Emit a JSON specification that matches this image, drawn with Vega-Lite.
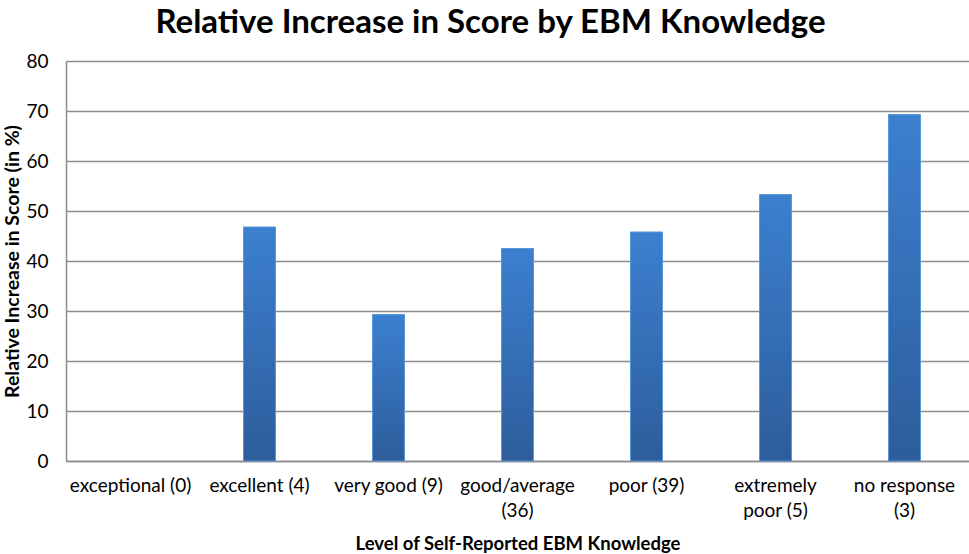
{
  "$schema": "https://vega.github.io/schema/vega-lite/v6.json",
  "description": "Relative increase in score by self-reported EBM knowledge",
  "width": 903,
  "height": 400,
  "autosize": {"type": "none"},
  "padding": {"left": 66, "top": 61, "right": 0, "bottom": 93},
  "background": "white",
  "title": {
    "text": "Relative Increase in Score by EBM Knowledge",
    "font": "Lato",
    "fontSize": 33,
    "fontWeight": "bold",
    "color": "black",
    "anchor": "middle",
    "dx": -27,
    "offset": 12
  },
  "data": {
    "values": [
      {"level": "exceptional (0)", "increase": null},
      {"level": "excellent (4)", "increase": 46.8},
      {"level": "very good (9)", "increase": 29.3},
      {"level": "good/average\n(36)", "increase": 42.5},
      {"level": "poor (39)", "increase": 45.8},
      {"level": "extremely\npoor (5)", "increase": 53.3},
      {"level": "no response\n(3)", "increase": 69.3}
    ]
  },
  "mark": {
    "type": "bar",
    "width": 32,
    "stroke": "#5b96d8",
    "strokeWidth": 1,
    "color": {
      "gradient": "linear",
      "x1": 0, "y1": 0, "x2": 0, "y2": 1,
      "stops": [
        {"offset": 0, "color": "#3c80d0"},
        {"offset": 1, "color": "#2d5d9b"}
      ]
    }
  },
  "encoding": {
    "x": {
      "field": "level",
      "type": "nominal",
      "sort": null,
      "title": "Level of Self-Reported EBM Knowledge",
      "scale": {
        "domain": ["exceptional (0)", "excellent (4)", "very good (9)", "good/average\n(36)", "poor (39)", "extremely\npoor (5)", "no response\n(3)"],
        "paddingInner": 0,
        "paddingOuter": 0
      },
      "axis": {
        "labelAngle": 0,
        "labelExpr": "split(datum.label, '\\n')",
        "labelFont": "Lato",
        "labelFontSize": 19,
        "labelColor": "black",
        "labelLineHeight": 25,
        "labelPadding": 15,
        "ticks": false,
        "domainColor": "#8c8c8c",
        "domainWidth": 1.5,
        "titleFont": "Lato",
        "titleFontSize": 18.5,
        "titleFontWeight": "bold",
        "titleColor": "black",
        "titlePadding": 14
      }
    },
    "y": {
      "field": "increase",
      "type": "quantitative",
      "title": "Relative Increase in Score (in %)",
      "scale": {"domain": [0, 80]},
      "axis": {
        "values": [0, 10, 20, 30, 40, 50, 60, 70, 80],
        "labelFont": "Lato",
        "labelFontSize": 19,
        "labelColor": "black",
        "labelPadding": 18,
        "ticks": false,
        "grid": true,
        "gridColor": "#8c8c8c",
        "gridWidth": 1.5,
        "domainColor": "#8c8c8c",
        "domainWidth": 1.5,
        "titleFont": "Lato",
        "titleFontSize": 19.5,
        "titleFontWeight": "bold",
        "titleColor": "black",
        "titlePadding": 3
      }
    }
  },
  "config": {
    "view": {"stroke": null}
  }
}
